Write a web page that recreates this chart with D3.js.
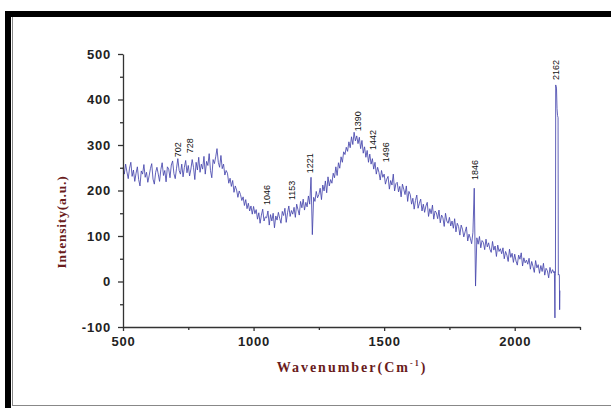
<!DOCTYPE html>
<html>
<head>
<meta charset="utf-8">
<script src="https://cdn.jsdelivr.net/npm/d3@7"></script>
<style>
  body { margin: 0; background: #fff; }
  svg { display: block; }
</style>
</head>
<body>
<div id="chart"></div>
<script>
const waveStart = 500
const waveStep = 5
const intensity = [
  250, 236, 258, 241, 226, 249, 262, 231, 245, 220,
  238, 252, 224, 210, 243, 236, 257, 229, 240, 218,
  232, 248, 259, 225, 214, 240, 251, 236, 220, 246,
  261, 233, 244, 219, 252, 247, 228, 256, 265, 237,
  226, 249, 270, 244, 236, 258, 230, 251, 266, 239,
  255, 232, 247, 268, 251, 224, 262, 245, 273, 240,
  258, 247, 275, 236, 264, 255, 281, 244, 228, 268,
  259, 274, 292, 262, 251, 277, 248, 258, 234, 244,
  238, 216, 227, 209, 222, 196, 210, 201, 185, 199,
  191, 178, 186, 167, 180, 160, 172, 155, 166, 148,
  165, 149, 158, 137, 151, 128, 146, 159, 133, 142,
  140, 155, 124, 147, 133, 150, 118, 144, 135, 152,
  139, 128, 154, 145, 161, 130, 151, 166, 143, 156,
  148, 163, 141, 170, 158, 146, 176, 162, 181, 157,
  174, 164, 188, 170, 229, 103, 185, 176, 198, 184,
  191, 205, 180, 212, 199, 221, 195, 230, 210, 224,
  216, 238, 228, 252, 233, 261, 249, 274, 262, 285,
  279, 295, 286, 307, 294, 318, 301, 328, 309, 320,
  303, 317, 292, 310, 282, 296, 273, 288, 262, 280,
  258, 270, 247, 262, 236, 251, 240, 223, 244, 229,
  236, 214, 225, 231, 203, 222, 212, 236, 199, 215,
  218, 197, 209, 186, 214, 203, 191, 210, 176, 198,
  191, 170, 183, 159, 178, 190, 161, 172, 181, 155,
  170, 152, 166, 174, 143, 160, 149, 168, 137, 155,
  151, 138, 157, 129, 146, 140, 121, 150, 133, 128,
  141, 122, 133, 117, 138, 109, 128, 121, 102, 124,
  115, 98, 109, 120, 89, 104, 95, 83, 108, 205,
  -10, 96, 82, 99, 74, 90, 86, 70, 93, 76,
  85, 71, 64, 88, 69, 78, 55, 80, 66, 72,
  61, 74, 50, 66, 58, 44, 71, 53, 62, 42,
  60, 45, 36, 58, 49, 63, 34, 52, 41, 47,
  38, 51, 27, 44, 33, 20, 46, 30, 37, 18,
  35, 22, 40, 14, 29, 24, 8, 31, 18, 26,
  19
]
// the sharp band near 2162 is sampled more finely
const tailWave = [2152, 2154, 2155, 2156, 2157, 2160, 2162, 2164, 2166, 2167, 2169, 2171, 2172, 2173]
const tailIntensity = [22, -80, 12, 18, 432, 425, 380, 365, 360, 14, 16, 14, -62, -20]

// peak annotations: text, and the point (wavenumber, intensity) where the label starts
const peakLabels = ['702', '728', '1046', '1153', '1221', '1390', '1442', '1496', '1846', '2162']
const peakAnchorWave = [710, 756, 1050, 1147, 1217, 1400, 1455, 1505, 1846, 2156]
const peakAnchorValue = [273, 282, 168, 179, 238, 330, 289, 262, 223, 443]

const xTicks = [500, 1000, 1500, 2000]
const xMinorTicks = [750, 1250, 1750, 2250]
const yTicks = [-100, 0, 100, 200, 300, 400, 500]
const yMinorTicks = [-50, 50, 150, 250, 350, 450]

const width = 611
const height = 408

const x = d3.scaleLinear().domain([500, 2250]).range([123, 580])
const y = d3.scaleLinear().domain([-100, 500]).range([327, 54])

const points = intensity.map((v, i) => [waveStart + i * waveStep, v])
  .concat(tailWave.map((w, i) => [w, tailIntensity[i]]))

const svg = d3.select('#chart').append('svg')
    .attr('width', width)
    .attr('height', height)

// picture frame
svg.append('rect').attr('x', 0).attr('y', 0).attr('width', width).attr('height', height).attr('fill', '#fff')
svg.append('rect').attr('x', 5).attr('y', 11).attr('width', width - 5).attr('height', 6).attr('fill', '#000')
svg.append('rect').attr('x', 5).attr('y', 11).attr('width', 6).attr('height', height - 11).attr('fill', '#000')
svg.append('line').attr('x1', 12.5).attr('x2', 12.5).attr('y1', 17).attr('y2', 406)
    .attr('stroke', '#888').attr('stroke-width', 1)
svg.append('line').attr('x1', 12).attr('x2', width).attr('y1', 405.5).attr('y2', 405.5)
    .attr('stroke', '#888').attr('stroke-width', 1)

// spectrum
svg.append('path')
    .datum(points)
    .attr('fill', 'none')
    .attr('stroke', '#4646ac')
    .attr('stroke-width', 0.85)
    .attr('stroke-linejoin', 'round')
    .attr('d', d3.line().x(d => x(d[0])).y(d => y(d[1])))

// axes
const tickFont = g => g.selectAll('text')
    .attr('font-family', 'Arial, "Liberation Sans", sans-serif')
    .attr('font-weight', 'bold')
    .attr('font-size', 13)
    .attr('letter-spacing', 0.8)
    .attr('fill', '#222')

const plain = d => String(d)

const xg = svg.append('g').attr('transform', 'translate(0,' + y(-100) + ')')
xg.call(d3.axisBottom(x).tickValues(xTicks).tickFormat(plain).tickSize(4).tickPadding(6).tickSizeOuter(0))
xg.call(tickFont)
svg.append('g').attr('transform', 'translate(0,' + y(-100) + ')')
    .call(d3.axisBottom(x).tickValues(xMinorTicks).tickSize(3).tickFormat(''))
    .call(g => g.select('.domain').remove())

const yg = svg.append('g').attr('transform', 'translate(' + x(500) + ',0)')
yg.call(d3.axisLeft(y).tickValues(yTicks).tickFormat(plain).tickSize(5).tickPadding(7).tickSizeOuter(0))
yg.call(tickFont)
svg.append('g').attr('transform', 'translate(' + x(500) + ',0)')
    .call(d3.axisLeft(y).tickValues(yMinorTicks).tickSize(3).tickFormat(''))
    .call(g => g.select('.domain').remove())

svg.selectAll('.domain, .tick line').attr('stroke', '#333').attr('stroke-width', 1.3)

// peak labels
svg.selectAll('.peak')
    .data(peakLabels)
  .enter().append('text')
    .attr('class', 'peak')
    .attr('transform', (d, i) => 'translate(' + x(peakAnchorWave[i]) + ',' + y(peakAnchorValue[i]) + ') rotate(-90)')
    .attr('dy', '0.35em')
    .attr('font-family', 'Arial, "Liberation Sans", sans-serif')
    .attr('font-size', 9)
    .attr('fill', '#111')
    .text(d => d)

// axis titles
const title = svg.append('text')
    .attr('x', 352)
    .attr('y', 372)
    .attr('text-anchor', 'middle')
    .attr('font-family', '"Times New Roman", "Liberation Serif", serif')
    .attr('font-weight', 'bold')
    .attr('font-size', 14)
    .attr('letter-spacing', 2)
    .attr('fill', '#6a1c1c')
title.append('tspan').text('Wavenumber(Cm')
title.append('tspan').attr('font-size', 8).attr('dy', -6).text('-1')
title.append('tspan').attr('dy', 6).text(')')

svg.append('text')
    .attr('transform', 'translate(66,222) rotate(-90)')
    .attr('text-anchor', 'middle')
    .attr('font-family', '"Times New Roman", "Liberation Serif", serif')
    .attr('font-weight', 'bold')
    .attr('font-size', 13.5)
    .attr('letter-spacing', 0.8)
    .attr('fill', '#6a1c1c')
    .text('Intensity(a.u.)')
</script>
</body>
</html>
